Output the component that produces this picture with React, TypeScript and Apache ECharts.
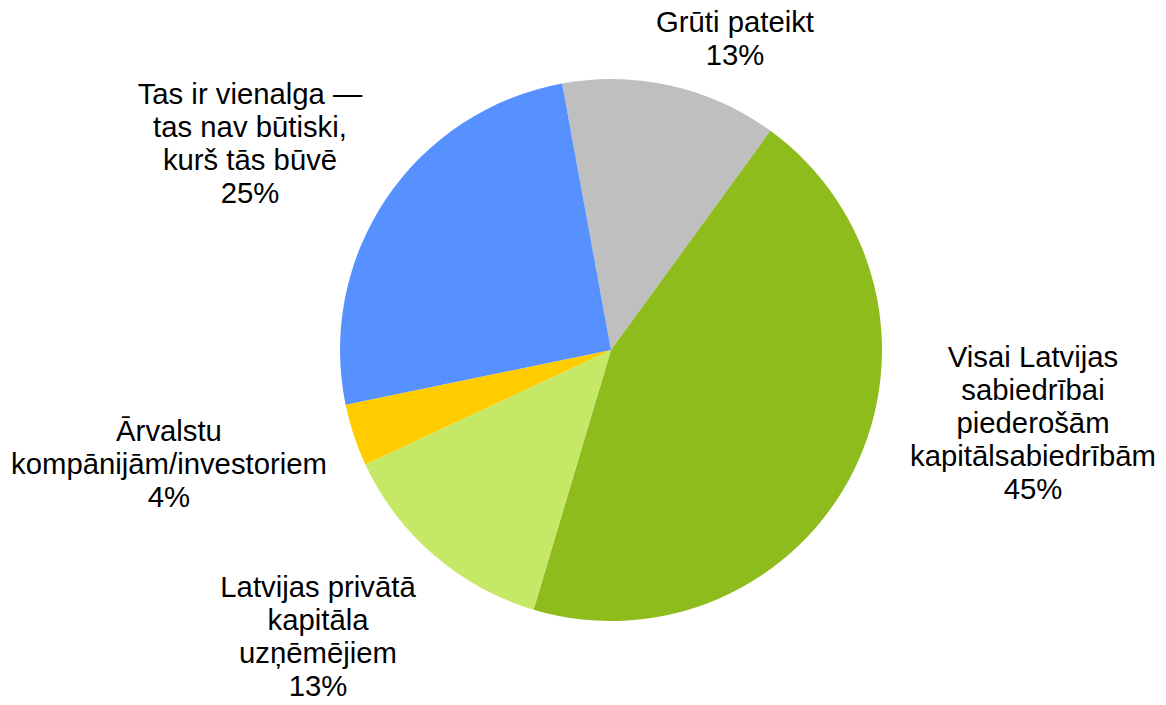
import React, { useEffect, useRef } from "react";
import * as echarts from "echarts";

const categories = [
  "Grūti pateikt",
  "Visai Latvijas\nsabiedrībai\npiederošām\nkapitālsabiedrībām",
  "Latvijas privātā\nkapitāla\nuzņēmējiem",
  "Ārvalstu\nkompānijām/investoriem",
  "Tas ir vienalga —\ntas nav būtiski,\nkurš tās būvē",
];
const values = [12.9, 44.6, 13.45, 3.7, 25.35];
const colors = ["#BFBFBF", "#8DBC1C", "#C5E866", "#FFCC00", "#5791FF"];

// label block centres, relative to the pie centre (layout only)
const labelOffsets: [number, number][] = [
  [124, -312],
  [422, 72],
  [-293, 286],
  [-442, 113],
  [-361, -207],
];

const CX = 611;
const CY = 350;

export default function App() {
  const ref = useRef<HTMLDivElement>(null);
  useEffect(() => {
    if (!ref.current) return;
    const chart = echarts.init(ref.current, null, { renderer: "svg" });
    chart.setOption({
      animation: false,
      backgroundColor: "#ffffff",
      series: [
        {
          type: "pie",
          center: [CX, CY],
          radius: [0, 271],
          startAngle: 100.4,
          clockwise: true,
          avoidLabelOverlap: false,
          data: categories.map((name, i) => ({
            name,
            value: values[i],
            itemStyle: { color: colors[i] },
          })),
          itemStyle: { borderWidth: 0 },
          emphasis: { disabled: true },
          label: {
            show: true,
            position: "outside",
            formatter: (p: any) => `${p.name}\n${Math.round(p.percent)}%`,
            fontFamily: "'Liberation Sans', Arial, sans-serif",
            fontSize: 29.3,
            lineHeight: 33,
            color: "#000000",
            align: "center",
          },
          labelLine: { show: false },
          labelLayout: (params: any) => {
            const o = labelOffsets[params.dataIndex];
            return {
              x: CX + o[0],
              y: CY + o[1],
              align: "center",
              verticalAlign: "middle",
            };
          },
        },
      ],
    });
    return () => chart.dispose();
  }, []);
  return (
    <div
      ref={ref}
      style={{ position: "fixed", left: 0, top: 0, width: 1166, height: 705 }}
    />
  );
}
